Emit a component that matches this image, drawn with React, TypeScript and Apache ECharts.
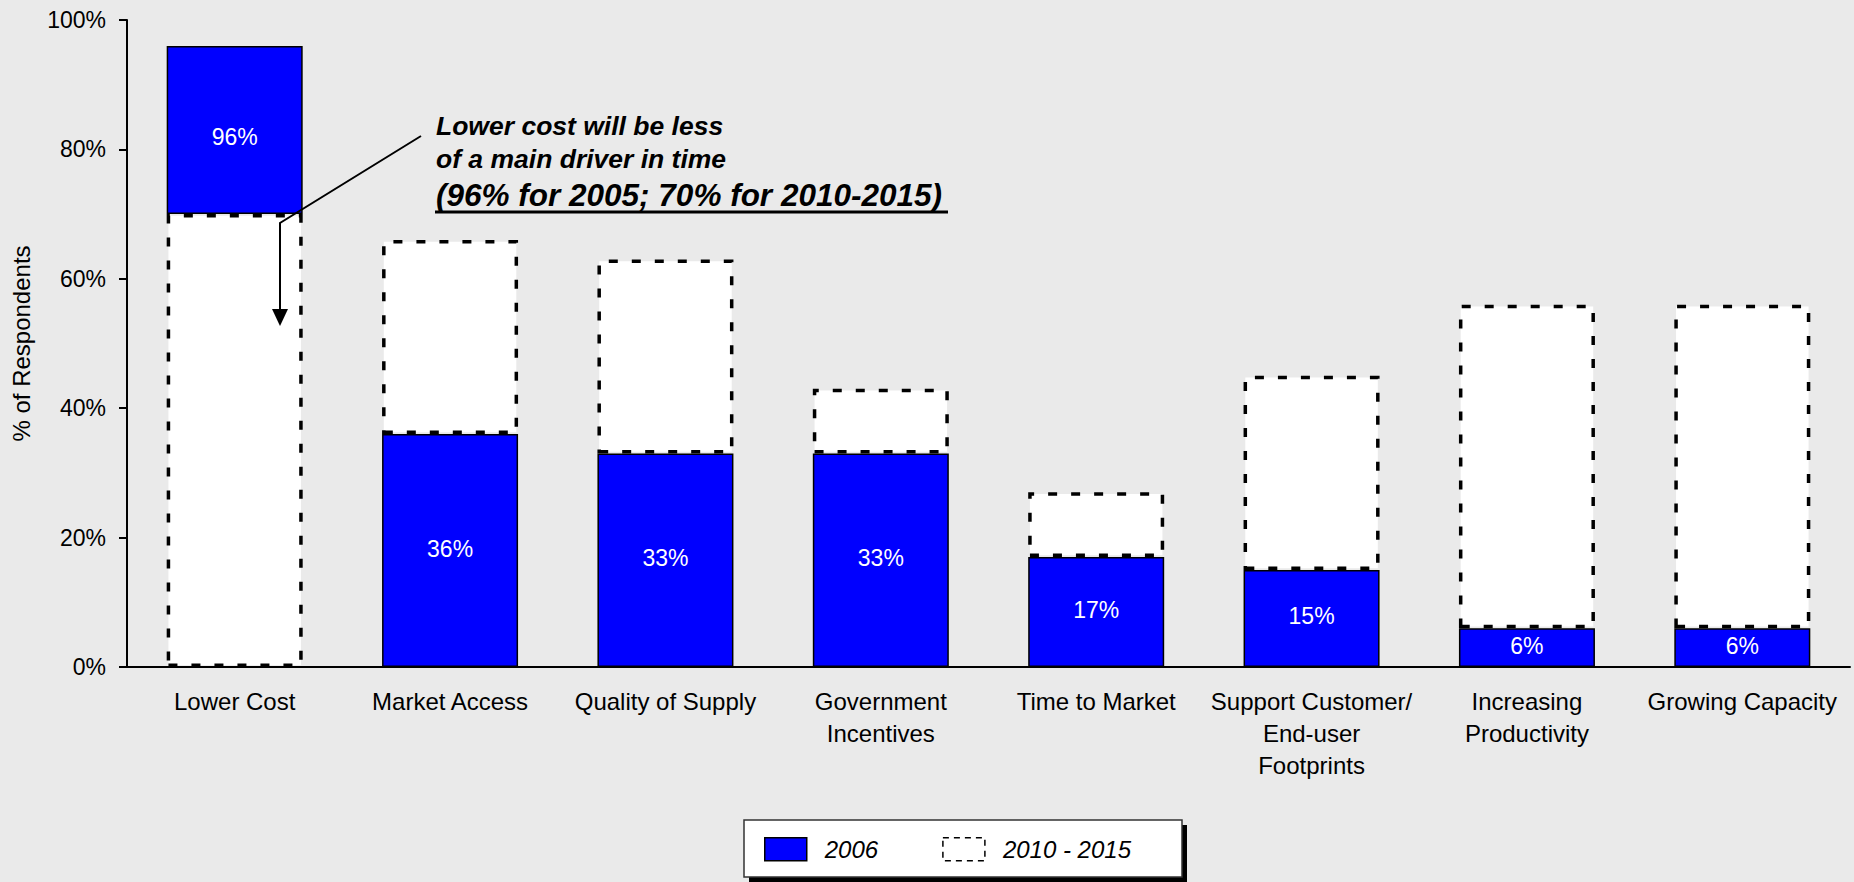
import React, { useEffect, useRef } from "react";
import * as echarts from "echarts";

const categories = [
  "Lower Cost",
  "Market Access",
  "Quality of Supply",
  "Government\nIncentives",
  "Time to Market",
  "Support Customer/\nEnd-user\nFootprints",
  "Increasing\nProductivity",
  "Growing Capacity",
];
const values2006 = [96, 36, 33, 33, 17, 15, 6, 6];
const values2010 = [70, 66, 63, 43, 27, 45, 56, 56];
const yTicks = { min: 0, max: 100, interval: 20 };
const seriesNames = ["2006", "2010 - 2015"];

const FONT = "'Liberation Sans', Arial, sans-serif";

export default function App() {
  const ref = useRef<HTMLDivElement>(null);
  useEffect(() => {
    if (!ref.current) return;
    const chart = echarts.init(ref.current, null, { renderer: "svg" });

    const lowerPart = values2010.map((v, i) => (v < values2006[i] ? v : "-"));
    const bluePart = values2006.map((v, i) =>
      values2010[i] < v
        ? { value: v - values2010[i], label: { offset: [0, 7] } }
        : { value: v }
    );
    const upperPart = values2010.map((v, i) =>
      v > values2006[i] ? v - values2006[i] : "-"
    );

    const dashedStyle = {
      color: "#ffffff",
      borderColor: "#000000",
      borderWidth: 3.5,
      borderType: [9, 14],
    };

    chart.setOption({
      animation: false,
      backgroundColor: "#EAEAEA",
      textStyle: { fontFamily: FONT },
      grid: { left: 127, top: 20, right: 4, bottom: 215, containLabel: false },
      legend: {
        left: 764,
        top: 837,
        padding: 0,
        itemWidth: 42,
        itemHeight: 23,
        itemGap: 64,
        textStyle: {
          fontSize: 24,
          fontStyle: "italic",
          color: "#000",
          fontFamily: FONT,
          padding: [0, 0, 0, 13],
        },
        data: [
          {
            name: seriesNames[0],
            icon: "rect",
            itemStyle: { color: "#0000FF", borderColor: "#000", borderWidth: 1.5 },
          },
          {
            name: seriesNames[1],
            icon: "rect",
            itemStyle: {
              color: "#ffffff",
              borderColor: "#000",
              borderWidth: 1.5,
              borderType: [6, 5],
            },
          },
        ],
      },
      xAxis: {
        type: "category",
        data: categories,
        axisTick: { show: false },
        axisLine: { lineStyle: { color: "#000", width: 2 } },
        axisLabel: {
          interval: 0,
          color: "#000",
          fontSize: 24,
          lineHeight: 32,
          margin: 18,
          fontFamily: FONT,
        },
      },
      yAxis: {
        type: "value",
        min: yTicks.min,
        max: yTicks.max,
        interval: yTicks.interval,
        name: "% of Respondents",
        nameLocation: "middle",
        nameGap: 94,
        nameTextStyle: { fontSize: 24, color: "#000", fontFamily: FONT },
        axisLine: { show: true, lineStyle: { color: "#000", width: 2 } },
        axisTick: { show: true, length: 8, lineStyle: { color: "#000", width: 2 } },
        splitLine: { show: false },
        axisLabel: {
          formatter: "{value}%",
          color: "#000",
          fontSize: 23,
          margin: 21,
          fontFamily: FONT,
        },
      },
      series: [
        {
          name: seriesNames[1],
          type: "bar",
          stack: "total",
          barWidth: 136,
          data: lowerPart,
          itemStyle: dashedStyle,
          z: 2,
        },
        {
          name: seriesNames[0],
          type: "bar",
          stack: "total",
          barWidth: 136,
          data: bluePart,
          itemStyle: { color: "#0000FF", borderColor: "#000", borderWidth: 1.5 },
          label: {
            show: true,
            position: "inside",
            color: "#fff",
            fontSize: 23,
            fontFamily: FONT,
            offset: [0, -2],
            formatter: (p: any) => values2006[p.dataIndex] + "%",
          },
          z: 2,
        },
        {
          name: seriesNames[1],
          type: "bar",
          stack: "total",
          barWidth: 136,
          data: upperPart,
          itemStyle: dashedStyle,
          z: 3,
        },
      ],
      graphic: [
        {
          type: "rect",
          z: 1,
          shape: { x: 749, y: 825, width: 438, height: 57 },
          style: { fill: "#000" },
          silent: true,
        },
        {
          type: "rect",
          z: 2,
          shape: { x: 744, y: 820, width: 438, height: 57 },
          style: { fill: "#fff", stroke: "#333", lineWidth: 1.5 },
          silent: true,
        },
        {
          type: "polyline",
          z: 10,
          shape: { points: [[421, 136], [280, 223], [280, 312]] },
          style: { stroke: "#000", lineWidth: 2, fill: null },
          silent: true,
        },
        {
          type: "polygon",
          z: 10,
          shape: { points: [[272, 309], [288, 309], [280, 326]] },
          style: { fill: "#000" },
          silent: true,
        },
        {
          type: "text",
          z: 10,
          x: 436,
          y: 126,
          style: {
            text: "Lower cost will be less",
            font: "italic bold 26.5px " + FONT,
            fill: "#000",
            textVerticalAlign: "middle",
          },
        },
        {
          type: "text",
          z: 10,
          x: 436,
          y: 159,
          style: {
            text: "of a main driver in time",
            font: "italic bold 26.5px " + FONT,
            fill: "#000",
            textVerticalAlign: "middle",
          },
        },
        {
          type: "text",
          z: 10,
          x: 436,
          y: 195,
          style: {
            text: "(96% for 2005; 70% for 2010-2015)",
            font: "italic bold 31.5px " + FONT,
            fill: "#000",
            textVerticalAlign: "middle",
          },
        },
        {
          type: "line",
          z: 10,
          shape: { x1: 435, y1: 212, x2: 948, y2: 212 },
          style: { stroke: "#000", lineWidth: 3 },
          silent: true,
        },
      ],
    });
    return () => chart.dispose();
  }, []);
  return (
    <div
      ref={ref}
      style={{ position: "fixed", left: 0, top: 0, width: 1854, height: 882 }}
    />
  );
}
